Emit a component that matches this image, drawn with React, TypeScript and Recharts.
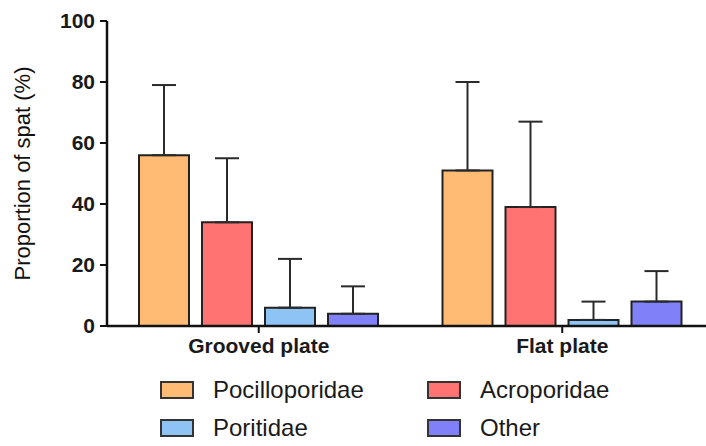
import { BarChart, Bar, XAxis, YAxis, ErrorBar } from "recharts";

const plates = ["Grooved plate", "Flat plate"];
const families = ["Pocilloporidae", "Acroporidae", "Poritidae", "Other"];
const colors = ["#FFBA73", "#FF7373", "#8EC3F5", "#8080F8"];

// mean % and upper error (SD) per plate type
const pocilloporidae = [56, 51];
const pocilloporidaeErr = [23, 29];
const acroporidae = [34, 39];
const acroporidaeErr = [21, 28];
const poritidae = [6, 2];
const poritidaeErr = [16, 6];
const other = [4, 8];
const otherErr = [9, 10];

const yTicks = [0, 20, 40, 60, 80, 100];

const keys = ["poc", "acr", "por", "oth"];
const means = [pocilloporidae, acroporidae, poritidae, other];
const errs = [pocilloporidaeErr, acroporidaeErr, poritidaeErr, otherErr];

const data = plates.map((plate, i) => {
  const row: Record<string, any> = { plate };
  keys.forEach((k, j) => {
    row[k] = means[j][i];
    row[k + "Err"] = [0, errs[j][i]];
  });
  return row;
});

const font = '"Liberation Sans", Arial, sans-serif';
const ink = "#1a1a1a";

const App = () => {
  return (
    <div
      style={{
        position: "absolute",
        left: 0,
        top: 0,
        width: 706,
        height: 446,
        overflow: "hidden",
        background: "#fff",
        fontFamily: font,
      }}
    >
      <BarChart
        width={714}
        height={446}
        data={data}
        margin={{ top: 21, right: 0, bottom: 90, left: 0 }}
        barCategoryGap={32}
        barGap={13}
      >
        <XAxis
          dataKey="plate"
          height={30}
          axisLine={{ stroke: "#111", strokeWidth: 2.5 }}
          tickLine={{ stroke: "#111", strokeWidth: 2 }}
          tickSize={7}
          tickMargin={5}
          tick={{ fill: ink, fontSize: 21, fontWeight: 700, fontFamily: font }}
        />
        <YAxis
          width={107}
          domain={[0, 100]}
          ticks={yTicks}
          interval={0}
          axisLine={{ stroke: "#111", strokeWidth: 2.5 }}
          tickLine={{ stroke: "#111", strokeWidth: 2 }}
          tickSize={7}
          tickMargin={5}
          tick={{ fill: ink, fontSize: 21, fontWeight: 700, fontFamily: font }}
          label={{
            value: "Proportion of spat (%)",
            angle: -90,
            position: "insideLeft",
            offset: 22,
            style: {
              textAnchor: "middle",
              fontSize: 22,
              fill: "#111",
              fontFamily: font,
            },
          }}
        />
        {keys.map((k, j) => (
          <Bar
            key={k}
            dataKey={k}
            name={families[j]}
            fill={colors[j]}
            stroke="#222"
            strokeWidth={2}
            isAnimationActive={false}
          >
            <ErrorBar
              dataKey={k + "Err"}
              direction="y"
              width={12}
              stroke="#2a2a2a"
              strokeWidth={2}
              isAnimationActive={false}
            />
          </Bar>
        ))}
      </BarChart>

      <div
        style={{
          position: "absolute",
          left: 160,
          top: 376,
          display: "grid",
          gridTemplateColumns: "267px 240px",
          rowGap: 10,
        }}
      >
        {families.map((name, j) => (
          <div
            key={name}
            style={{ display: "flex", alignItems: "center", height: 28 }}
          >
            <span
              style={{
                display: "inline-block",
                boxSizing: "border-box",
                width: 34,
                height: 18,
                background: colors[j],
                border: "2px solid #333",
                marginRight: 19,
              }}
            />
            <span style={{ fontSize: 24, lineHeight: "28px", color: ink }}>
              {name}
            </span>
          </div>
        ))}
      </div>
    </div>
  );
};

export default App;
